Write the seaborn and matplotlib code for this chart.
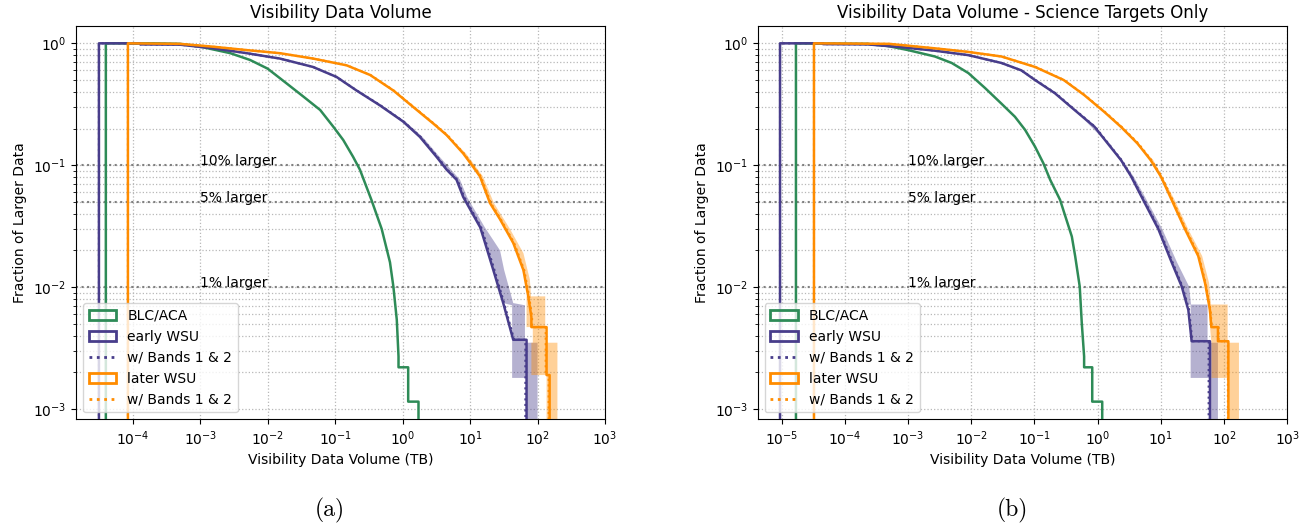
import matplotlib
matplotlib.use("Agg")
import matplotlib.pyplot as plt
import pandas as pd
import seaborn as sns
from matplotlib.patches import Patch
from matplotlib.lines import Line2D
from matplotlib.ticker import NullLocator, FixedLocator

GREEN = "#2e8b57"
INDIGO = "#483d8b"
ORANGE = "#ff8c00"

# ---------------- (a) all targets ----------------
blc_vol_a = [4.0e-5, 4.0e-5, 2e-4, 5e-4, 1e-3, 2.8e-3, 5.5e-3, 0.01, 0.019, 0.034, 0.060, 0.094,
             0.132, 0.185, 0.233, 0.345, 0.49, 0.65, 0.73, 0.82, 0.87, 0.87, 1.21, 1.21, 1.72, 1.72]
blc_frac_a = [0, 1.0, 1.0, 0.99, 0.94, 0.83, 0.73, 0.62, 0.47, 0.365, 0.284, 0.207,
              0.161, 0.117, 0.092, 0.052, 0.030, 0.016, 0.0101, 0.0054, 0.0027, 0.0022, 0.0022,
              0.00115, 0.00115, 0]

early_vol_a = [3.16e-5, 3.16e-5, 1.3e-4, 1.3e-4, 5e-4, 1.56e-3, 4.9e-3, 0.0152, 0.047, 0.105, 0.208,
               0.46, 1.02, 1.8, 3.19, 4.49, 6.3, 7.9, 14.1, 15.6, 22.1, 31, 43.6, 68.7, 68.7]
early_frac_a = [0, 1.0, 1.0, 0.98, 0.975, 0.91, 0.83, 0.75, 0.64, 0.53, 0.41,
                0.31, 0.228, 0.171, 0.117, 0.092, 0.076, 0.055, 0.031, 0.026, 0.0138, 0.0074,
                0.0037, 0.0037, 0]

later_vol_a = [8.5e-5, 8.5e-5, 5e-4, 1.5e-3, 4.9e-3, 0.0152, 0.047, 0.148, 0.33, 0.73, 1.44, 2.84,
               4.49, 7.9, 11.1, 14, 19.7, 27.8, 43.7, 61.7, 72.8, 81, 81, 136, 136, 151, 151]
later_frac_a = [0, 1.0, 0.99, 0.94, 0.88, 0.83, 0.75, 0.66, 0.55, 0.41, 0.30, 0.22,
                0.177, 0.125, 0.097, 0.081, 0.049, 0.036, 0.023, 0.0138, 0.0084, 0.0057, 0.0047,
                0.0047, 0.0019, 0.0019, 0]

# "w/ Bands 1 & 2" curves (same fraction levels, slightly larger volumes)
early_b12_vol_a = [3.16e-5, 3.16e-5, 1.3e-4, 1.3e-4, 5e-4, 1.56e-3, 4.9e-3, 0.0152, 0.047, 0.105,
                   0.21, 0.47, 1.04, 1.85, 3.3, 4.6, 6.5, 8.2, 14.6, 16.2, 23, 32, 45, 66, 66]
later_b12_vol_a = [8.5e-5, 8.5e-5, 5e-4, 1.5e-3, 4.9e-3, 0.0152, 0.047, 0.15, 0.335, 0.74, 1.47,
                   2.9, 4.6, 8.1, 11.4, 14.4, 20.3, 28.6, 45, 63.5, 75, 83, 83, 132, 132, 146, 146]

early_band_frac_a = [0.41, 0.31, 0.228, 0.171, 0.117, 0.076, 0.055, 0.031, 0.020, 0.0138, 0.0074,
                     0.0071, 0.0035, 0.0035, 0.0018, 0.0018, 0]
early_band_lo_a = [0.208, 0.46, 1.02, 1.8, 3.19, 6.3, 7.9, 14.1, 18.5, 22.1, 31, 42, 42, 42, 42, 69, 69]
early_band_hi_a = [0.215, 0.49, 1.1, 1.97, 3.55, 7.1, 9.0, 16.5, 27.8, 32, 43.6, 65, 65, 100, 100,
                   100, 100]

later_band_frac_a = [0.41, 0.30, 0.22, 0.125, 0.081, 0.049, 0.030, 0.019, 0.0115, 0.0084, 0.0084,
                     0.0047, 0.0047, 0.0035, 0.0035, 0.0019, 0.0019, 0]
later_band_lo_a = [0.73, 1.44, 2.84, 7.9, 14, 19.7, 33, 50, 66, 72.8, 68.7, 68.7, 85, 85, 81, 81,
                   136, 136]
later_band_hi_a = [0.76, 1.52, 3.05, 8.7, 15.5, 22.5, 39, 61.7, 77, 80, 130, 130, 130, 130, 197,
                   197, 197, 197]

# ---------------- (b) science targets only ----------------
blc_vol_b = [1.68e-5, 1.68e-5, 2.3e-4, 4.8e-4, 1e-3, 2.65e-3, 4.9e-3, 9e-3, 0.0165, 0.030, 0.049,
             0.071, 0.102, 0.138, 0.177, 0.254, 0.39, 0.44, 0.52, 0.56, 0.61, 0.61, 0.82, 0.82,
             1.18, 1.18]
blc_frac_b = [0, 1.0, 0.99, 0.95, 0.88, 0.78, 0.69, 0.57, 0.43, 0.32, 0.25,
              0.195, 0.142, 0.104, 0.076, 0.052, 0.026, 0.018, 0.0101, 0.0051, 0.0027, 0.0022,
              0.0022, 0.00115, 0.00115, 0]

early_vol_b = [9.4e-6, 9.4e-6, 4.5e-5, 4.5e-5, 2.3e-4, 7.8e-4, 2.65e-3, 9e-3, 0.030, 0.062, 0.102,
               0.21, 0.43, 0.89, 1.44, 2.35, 3.38, 4.96, 9.1, 14.8, 21.4, 27.2, 30.7, 59.8, 59.8]
early_frac_b = [0, 1.0, 1.0, 0.985, 0.98, 0.93, 0.87, 0.80, 0.69, 0.60, 0.50,
                0.39, 0.284, 0.207, 0.151, 0.11, 0.081, 0.055, 0.030, 0.016, 0.0101, 0.0065,
                0.0036, 0.0036, 0]

later_vol_b = [3.24e-5, 3.24e-5, 5e-4, 2.65e-3, 9e-3, 0.030, 0.102, 0.29, 0.61, 1.26, 2.32, 4.27,
               6.9, 10, 14.8, 24, 39, 50, 59.8, 63, 80, 80, 117, 117]
later_frac_b = [0, 1.0, 0.99, 0.91, 0.85, 0.78, 0.64, 0.50, 0.377, 0.275, 0.207, 0.151,
                0.11, 0.081, 0.052, 0.030, 0.018, 0.0108, 0.0065, 0.0047, 0.0047, 0.0036, 0.0036, 0]

early_b12_vol_b = [9.4e-6, 9.4e-6, 4.5e-5, 4.5e-5, 2.3e-4, 7.8e-4, 2.65e-3, 9e-3, 0.030, 0.062,
                   0.104, 0.215, 0.44, 0.91, 1.47, 2.4, 3.45, 5.1, 9.4, 15.3, 22, 28, 31.5, 57, 57]
later_b12_vol_b = [3.24e-5, 3.24e-5, 5e-4, 2.65e-3, 9e-3, 0.030, 0.104, 0.295, 0.62, 1.29, 2.38,
                   4.4, 7.1, 10.3, 15.3, 24.8, 40, 51, 61, 64, 82, 82, 115, 115]

early_band_frac_b = [0.284, 0.151, 0.081, 0.055, 0.030, 0.016, 0.0101, 0.0072, 0.0072, 0.0035,
                     0.0035, 0.0018, 0.0018, 0]
early_band_lo_b = [0.43, 1.44, 3.38, 4.96, 9.1, 14.8, 21.4, 26, 29.6, 29.6, 29.6, 29.6, 59.8, 59.8]
early_band_hi_b = [0.45, 1.55, 3.7, 5.6, 10.5, 18, 28, 30, 54.8, 54.8, 80, 80, 80, 80]

later_band_frac_b = [0.377, 0.207, 0.11, 0.052, 0.030, 0.018, 0.0108, 0.0072, 0.0072, 0.0035,
                     0.0035, 0.0018, 0.0018, 0]
later_band_lo_b = [0.61, 2.32, 6.9, 14.8, 24, 39, 50, 57, 56, 63, 63, 63, 117, 117]
later_band_hi_b = [0.64, 2.5, 7.6, 16.5, 27, 45, 58, 62, 114, 114, 172, 172, 172, 172]

thresholds = [0.1, 0.05, 0.01]
threshold_labels = ["10% larger", "5% larger", "1% larger"]

x_ticks_a = [1e-4, 1e-3, 1e-2, 1e-1, 1e0, 1e1, 1e2, 1e3]
x_ticks_b = [1e-5, 1e-4, 1e-3, 1e-2, 1e-1, 1e0, 1e1, 1e2, 1e3]
y_ticks = [1e-3, 1e-2, 1e-1, 1e0]
y_minor = [m * d for d in (1e-3, 1e-2, 1e-1) for m in range(2, 10)]

titles = ["Visibility Data Volume", "Visibility Data Volume - Science Targets Only"]
captions = ["(a)", "(b)"]
legend_labels = ["BLC/ACA", "early WSU", "w/ Bands 1 & 2", "later WSU", "w/ Bands 1 & 2"]

panels = [
    dict(blc=(blc_vol_a, blc_frac_a), early=(early_vol_a, early_frac_a), later=(later_vol_a, later_frac_a),
         early_b12=(early_b12_vol_a, early_frac_a), later_b12=(later_b12_vol_a, later_frac_a),
         early_band=(early_band_frac_a, early_band_lo_a, early_band_hi_a),
         later_band=(later_band_frac_a, later_band_lo_a, later_band_hi_a),
         xlim=(10 ** -4.84, 1e3), xticks=x_ticks_a),
    dict(blc=(blc_vol_b, blc_frac_b), early=(early_vol_b, early_frac_b), later=(later_vol_b, later_frac_b),
         early_b12=(early_b12_vol_b, early_frac_b), later_b12=(later_b12_vol_b, later_frac_b),
         early_band=(early_band_frac_b, early_band_lo_b, early_band_hi_b),
         later_band=(later_band_frac_b, later_band_lo_b, later_band_hi_b),
         xlim=(10 ** -5.38, 1e3), xticks=x_ticks_b),
]


def draw_curve(ax, curve, color, ls="-", lw=1.8, z=4):
    vol, frac = curve
    df = pd.DataFrame({"vol": vol, "frac": frac})
    sns.lineplot(data=df, x="vol", y="frac", ax=ax, color=color, linewidth=lw, linestyle=ls,
                 estimator=None, sort=False, zorder=z, legend=False)


fig = plt.figure(figsize=(13.15, 5.31), dpi=100)
axes = [fig.add_axes([0.0578, 0.2104, 0.4023, 0.7406]),
        fig.add_axes([0.5762, 0.2104, 0.4027, 0.7406])]

for ax, p, title, cap_x, cap in zip(axes, panels, titles, [0.251, 0.770], captions):
    draw_curve(ax, p["early_b12"], INDIGO, ls=":", lw=1.5, z=3)
    draw_curve(ax, p["later_b12"], ORANGE, ls=":", lw=1.5, z=3)
    draw_curve(ax, p["blc"], GREEN)
    draw_curve(ax, p["early"], INDIGO)
    draw_curve(ax, p["later"], ORANGE)

    ax.set_xscale("log")
    ax.set_yscale("log")

    for band, color in ((p["early_band"], INDIGO), (p["later_band"], ORANGE)):
        frac, lo, hi = band
        ax.fill_betweenx(frac, lo, hi, color=color, alpha=0.4, linewidth=0, zorder=2)

    for yv, lab in zip(thresholds, threshold_labels):
        ax.axhline(yv, color="gray", linestyle=":", linewidth=1.5, zorder=1.5)
        ax.text(1e-3, yv, lab, fontsize=10, ha="left", va="baseline", zorder=1.6)

    ax.set_xlim(*p["xlim"])
    ax.set_ylim(10 ** -3.084, 10 ** 0.142)
    ax.xaxis.set_major_locator(FixedLocator(p["xticks"]))
    ax.xaxis.set_minor_locator(NullLocator())
    ax.yaxis.set_major_locator(FixedLocator(y_ticks))
    ax.yaxis.set_minor_locator(FixedLocator(y_minor))
    ax.grid(True, which="major", axis="both", linestyle=":", color="#b8b8b8", linewidth=0.9)
    ax.grid(True, which="minor", axis="y", linestyle=":", color="#b8b8b8", linewidth=0.9)
    ax.set_axisbelow(True)

    ax.set_title(title, fontsize=12)
    ax.set_xlabel("Visibility Data Volume (TB)", fontsize=10)
    ax.set_ylabel("Fraction of Larger Data", fontsize=10)

    handles = [
        Patch(facecolor="none", edgecolor=GREEN, linewidth=2, label=legend_labels[0]),
        Patch(facecolor="none", edgecolor=INDIGO, linewidth=2, label=legend_labels[1]),
        Line2D([], [], color=INDIGO, linestyle=":", linewidth=2, label=legend_labels[2]),
        Patch(facecolor="none", edgecolor=ORANGE, linewidth=2, label=legend_labels[3]),
        Line2D([], [], color=ORANGE, linestyle=":", linewidth=2, label=legend_labels[4]),
    ]
    ax.legend(handles=handles, loc="lower left", fontsize=10)

    fig.text(cap_x, 0.038, cap, fontfamily="cmr10", fontsize=17, ha="center", va="center")

fig.savefig("out.png", dpi=100)
